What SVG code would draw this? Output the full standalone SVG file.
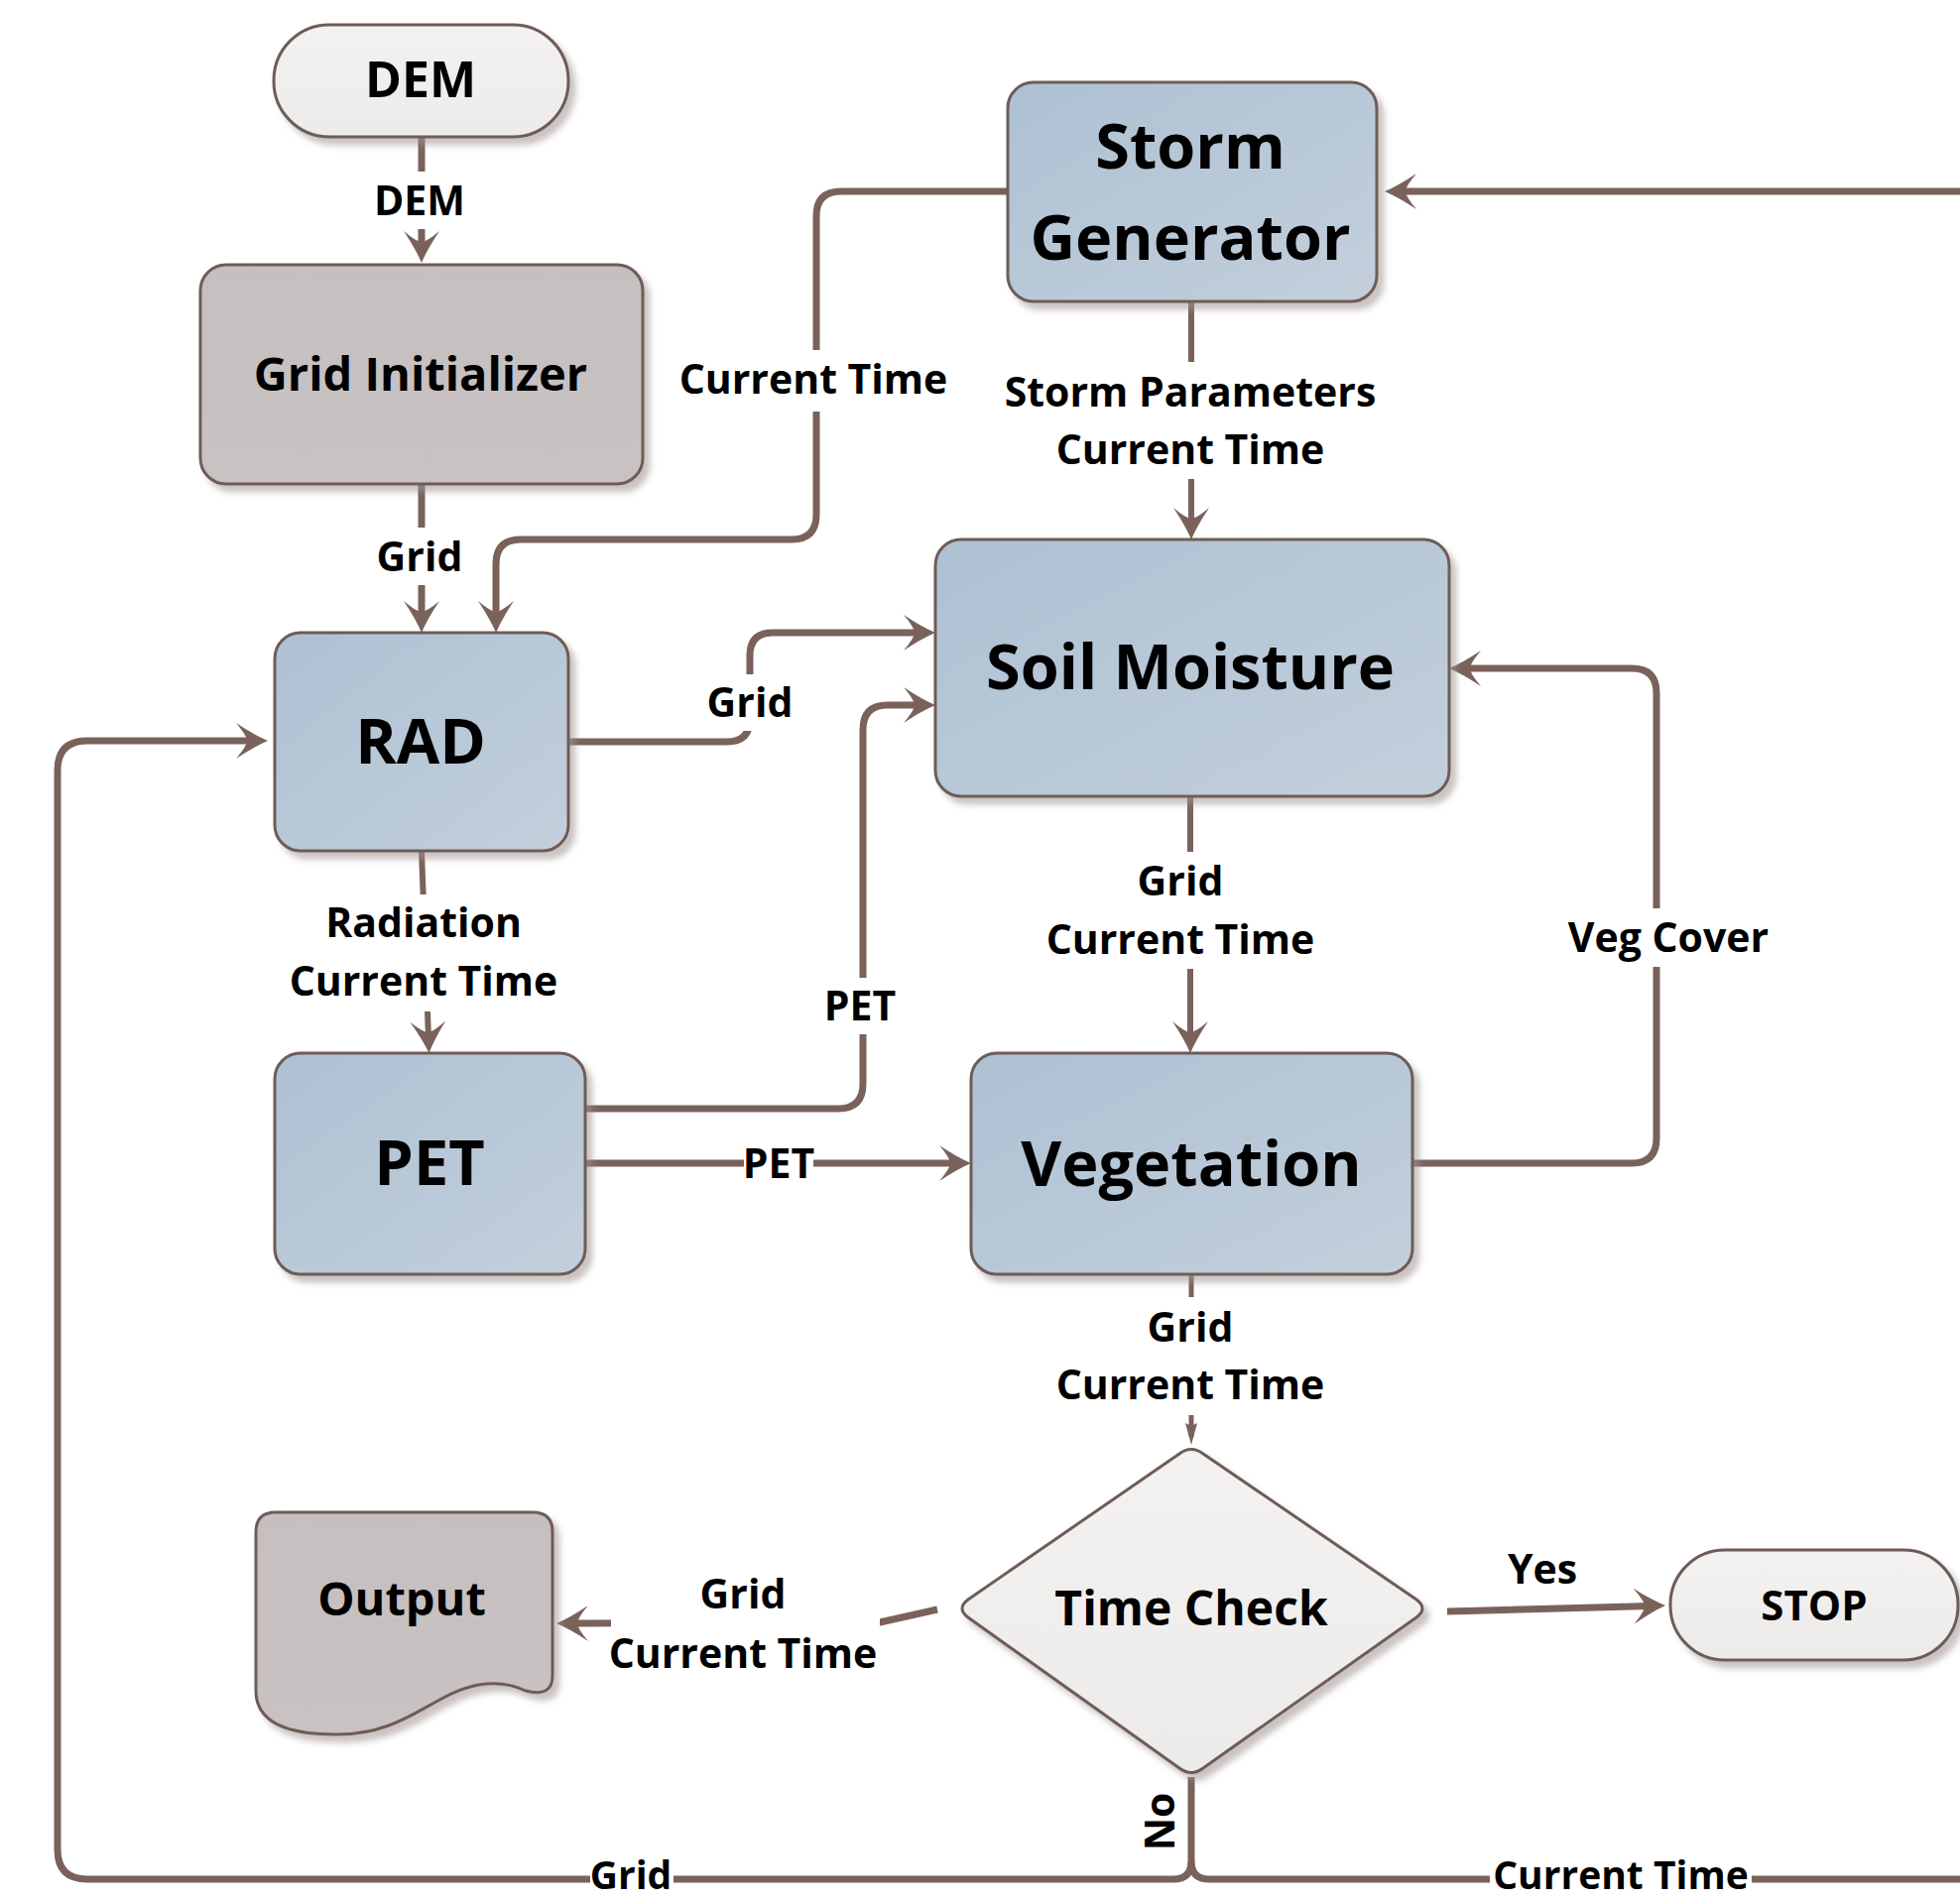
<svg xmlns="http://www.w3.org/2000/svg" width="1976" height="1918" viewBox="0 0 1976 1918">
<style>
.t{font-family:"Open Sans","Noto Sans","DejaVu Sans",sans-serif;font-weight:700;fill:#000;text-anchor:middle}
.big{font-size:63px}
.lbl{font-size:41px}
.blue{fill:url(#gBlue);stroke:#6E5C57;stroke-width:3;filter:url(#sh)}
.grey{fill:url(#gGrey);stroke:#6E5C57;stroke-width:3;filter:url(#sh)}
.light{fill:url(#gLight);stroke:#6E5C57;stroke-width:3;filter:url(#sh)}
.c{fill:none;stroke:#7A625A;stroke-width:7;stroke-linejoin:round}
.lb{fill:#fff}
</style>
<defs>
<linearGradient id="gBlue" x1="0" y1="0" x2="1" y2="1">
<stop offset="0" stop-color="#ADC1D3"/>
<stop offset="1" stop-color="#C3CFDB"/>
</linearGradient>
<linearGradient id="gGrey" x1="0" y1="0" x2="0" y2="1">
<stop offset="0" stop-color="#C5BFBF"/>
<stop offset="1" stop-color="#C8C2C2"/>
</linearGradient>
<linearGradient id="gLight" x1="0" y1="0" x2="0" y2="1">
<stop offset="0" stop-color="#F3F2F1"/>
<stop offset="1" stop-color="#ECEBEA"/>
</linearGradient>
<filter id="sh" x="-10%" y="-10%" width="125%" height="125%">
<feDropShadow dx="6" dy="7" stdDeviation="3" flood-color="#9E9290" flood-opacity="0.55"/>
</filter>
<marker id="ah" markerUnits="userSpaceOnUse" viewBox="-34 -19 36 38" refX="-15" refY="0" markerWidth="36" markerHeight="38" orient="auto">
<path d="M0,0 Q-14,-6 -32,-18 Q-21,-5 -21,0 Q-21,5 -32,18 Q-14,6 0,0 Z" fill="#7A625A"/>
</marker>
<marker id="ahs" markerUnits="userSpaceOnUse" viewBox="-24 -8 26 16" refX="-8" refY="0" markerWidth="26" markerHeight="16" orient="auto">
<path d="M0,0 L-22,-6 Q-18,0 -22,6 Z" fill="#7A625A"/>
</marker>
</defs>
<rect x="0" y="0" width="1976" height="1918" fill="#fff"/>

<g id="connectors">
<path class="c" d="M425,138 L425,250" marker-end="url(#ah)"/>
<path class="c" d="M425,488 L425,623" marker-end="url(#ah)"/>
<path class="c" d="M1016,193 L848,193 Q823,193 823,218 L823,519 Q823,544 798,544 L525,544 Q500,544 500,569 L500,623" marker-end="url(#ah)"/>
<path class="c" d="M573,748 L733,748 Q756,748 756,725 L756,661 Q756,638 779,638 L928,638" marker-end="url(#ah)"/>
<path class="c" d="M590,1118 L845,1118 Q870,1118 870,1093 L870,736 Q870,711 895,711 L928,711" marker-end="url(#ah)"/>
<path class="c" d="M1201,303 L1201,529" style="stroke-width:6" marker-end="url(#ah)"/>
<path class="c" d="M425,858 L432,1047" style="stroke-width:6" marker-end="url(#ah)"/>
<path class="c" d="M590,1173 L964,1173" marker-end="url(#ah)"/>
<path class="c" d="M1200,803 L1200,1047" style="stroke-width:6" marker-end="url(#ah)"/>
<path class="c" d="M1424,1173 L1645,1173 Q1670,1173 1670,1148 L1670,699 Q1670,674 1645,674 L1476,674" marker-end="url(#ah)"/>
<path class="c" d="M1201,1285 L1201,1449" style="stroke-width:5" marker-end="url(#ahs)"/>
<path class="c" d="M1459,1625 L1664,1619.4" marker-end="url(#ah)"/>
<path class="c" d="M945,1623 L887,1636 L576,1637" marker-end="url(#ah)"/>
<path class="c" d="M1201,1792 L1201,1877 Q1201,1895 1183,1895 L88,1895 Q58,1895 58,1865 L58,777 Q58,747 88,747 L255,747" marker-end="url(#ah)"/>
<path class="c" d="M1201,1877 Q1201,1895 1219,1895 L1976,1895"/>
<path class="c" d="M1976,193 L1411,193" marker-end="url(#ah)"/>

<g id="labels">
<rect class="lb" x="375" y="173" width="97" height="58"/>
<text class="t lbl" x="423" y="217">DEM</text>
<rect class="lb" x="380" y="532" width="88" height="58"/>
<text class="t lbl" x="423" y="576">Grid</text>
<rect class="lb" x="683" y="353" width="274" height="62"/>
<text class="t lbl" x="820" y="397">Current Time</text>
<rect class="lb" x="1015" y="365" width="372" height="118"/>
<text class="t lbl" x="1200" y="410">Storm Parameters</text>
<text class="t lbl" x="1200" y="468">Current Time</text>
<rect class="lb" x="713" y="680" width="87" height="57"/>
<text class="t lbl" x="756" y="723">Grid</text>
<rect class="lb" x="830" y="986" width="75" height="57"/>
<text class="t lbl" x="867" y="1029">PET</text>
<rect class="lb" x="296" y="902" width="265" height="118"/>
<text class="t lbl" x="427" y="945">Radiation</text>
<text class="t lbl" x="427" y="1004">Current Time</text>
<rect class="lb" x="750" y="1145" width="70" height="57"/>
<text class="t lbl" x="785" y="1188">PET</text>
<rect class="lb" x="1057" y="859" width="267" height="118"/>
<text class="t lbl" x="1190" y="903">Grid</text>
<text class="t lbl" x="1190" y="962">Current Time</text>
<rect class="lb" x="1579" y="916" width="208" height="59"/>
<text class="t lbl" x="1682" y="960">Veg Cover</text>
<rect class="lb" x="1066" y="1308" width="271" height="119"/>
<text class="t lbl" x="1200" y="1353">Grid</text>
<text class="t lbl" x="1200" y="1411">Current Time</text>
<text class="t lbl" x="1555" y="1597">Yes</text>
<rect class="lb" x="616" y="1578" width="271" height="117"/>
<text class="t lbl" x="749" y="1622">Grid</text>
<text class="t lbl" x="749" y="1682">Current Time</text>
<text class="t lbl" transform="translate(1184,1837) rotate(-90)" x="0" y="0">No</text>
<rect class="lb" x="595" y="1872" width="84" height="46"/>
<text class="t" style="font-size:39px" x="636" y="1905">Grid</text>
<rect class="lb" x="1502" y="1872" width="264" height="46"/>
<text class="t" style="font-size:39px" x="1634" y="1905">Current Time</text>
</g>
</g>

<g id="node-dem">
<rect class="light" x="276" y="25" width="297" height="113" rx="56"/>
<text class="t" style="font-size:50px" x="424" y="98">DEM</text>
</g>
<g id="node-grid-initializer">
<rect class="grey" x="202" y="267" width="446" height="221" rx="26"/>
<text class="t" style="font-size:47px" x="424" y="394">Grid Initializer</text>
</g>
<g id="node-storm-generator">
<rect class="blue" x="1016" y="83" width="372" height="221" rx="26"/>
<text class="t big" x="1200" y="170">Storm</text>
<text class="t big" x="1200" y="262">Generator</text>
</g>
<g id="node-rad">
<rect class="blue" x="277" y="638" width="296" height="220" rx="26"/>
<text class="t big" x="424" y="770">RAD</text>
</g>
<g id="node-soil-moisture">
<rect class="blue" x="943" y="544" width="518" height="259" rx="26"/>
<text class="t big" x="1200" y="695">Soil Moisture</text>
</g>
<g id="node-pet">
<rect class="blue" x="277" y="1062" width="313" height="223" rx="26"/>
<text class="t big" x="433" y="1195">PET</text>
</g>
<g id="node-vegetation">
<rect class="blue" x="979" y="1062" width="445" height="223" rx="26"/>
<text class="t big" x="1201" y="1196">Vegetation</text>
</g>
<g id="node-time-check">
<path class="light" d="M1189,1466 Q1201,1457 1213,1466 L1428,1613 Q1440,1622 1428,1631 L1213,1783 Q1201,1792 1189,1783 L976,1631 Q964,1622 976,1613 Z"/>
<text class="t" style="font-size:48px" x="1201" y="1639">Time Check</text>
</g>
<g id="node-stop">
<rect class="light" x="1684" y="1563" width="290" height="111" rx="55"/>
<text class="t" style="font-size:42px" x="1829" y="1634">STOP</text>
</g>
<g id="node-output">
<path class="grey" d="M278,1525 L537,1525 Q557,1525 557,1545 L557,1690 Q557,1712 530,1705 Q512,1696 490,1698 C438,1703 412,1750 338,1749 Q258,1749 258,1705 L258,1545 Q258,1525 278,1525 Z"/>
<text class="t" style="font-size:47px" x="405" y="1629">Output</text>
</g>
</svg>
